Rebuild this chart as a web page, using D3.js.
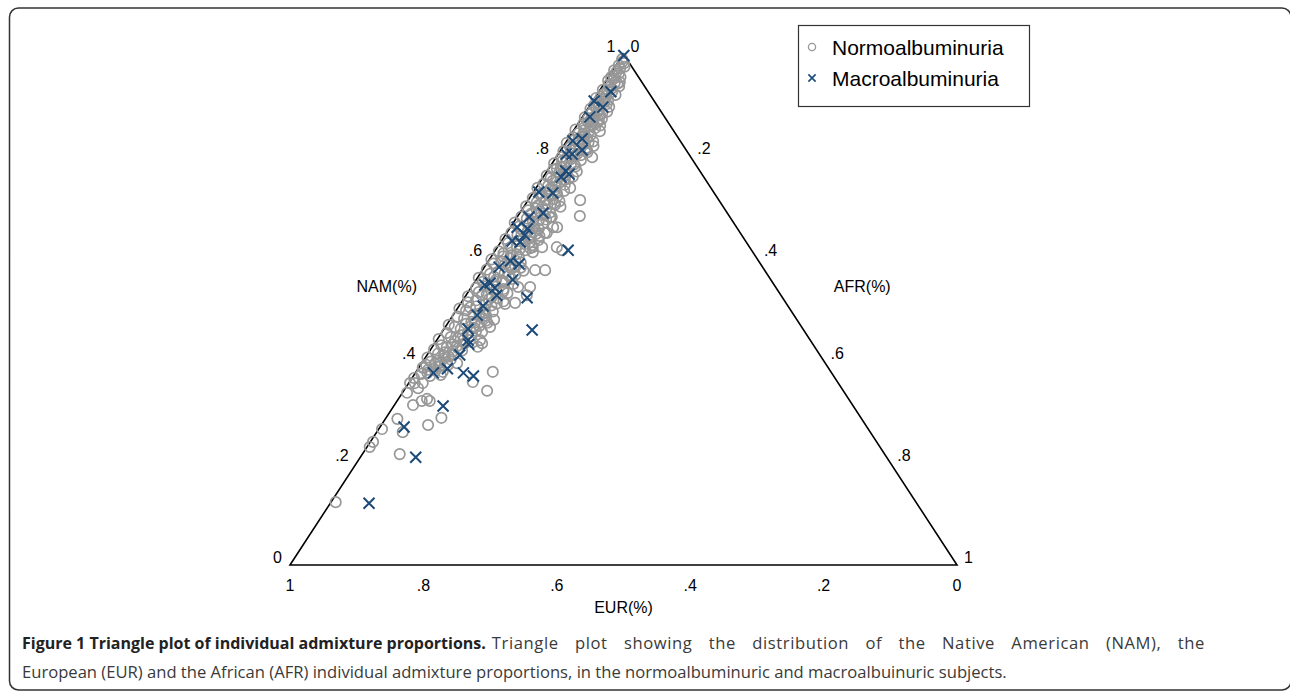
<!DOCTYPE html>
<html>
<head>
<meta charset="utf-8">
<script src="https://cdn.jsdelivr.net/npm/d3@7"></script>
<style>
  body { margin: 0; background: #fff; }
  svg { display: block; }
</style>
</head>
<body>
<div id="chart"></div>
<script>
// every point is [NAM, AFR]; EUR = 1 - NAM - AFR

// normoalbuminuria, dense band near the NAM/EUR edge
var normoUpper = [
  [0.99,0.003],[0.985,0.006],[0.978,0.004],[0.972,0.009],[0.968,0.002],[0.962,0.012],[0.958,0.006],
  [0.952,0.010],[0.948,0.003],[0.944,0.015],[0.94,0.008],[0.935,0.012],[0.93,0.004],[0.926,0.020],
  [0.922,0.010],[0.918,0.015],[0.914,0.002],[0.91,0.022],[0.905,0.008],[0.90,0.014],[0.897,0.030],
  [0.893,0.004],[0.889,0.018],[0.885,0.010],[0.88,0.025],[0.876,0.004],[0.872,0.015],[0.868,0.020],
  [0.864,0.008],[0.86,0.035],[0.856,0.013],[0.852,0.002],[0.848,0.024]
];
var normoMiddle = [
  [0.845,0.010],[0.841,0.030],[0.837,0.006],[0.833,0.016],[0.829,0.040],[0.826,0.002],[0.822,0.022],
  [0.818,0.011],[0.814,0.028],[0.81,0.005],[0.806,0.018],[0.802,0.035],[0.798,0.008],[0.794,0.024],
  [0.79,0.013],[0.786,0.003],[0.782,0.030],[0.778,0.017],[0.774,0.008],[0.770,0.045],[0.766,0.020],
  [0.762,0.004],[0.758,0.012],[0.754,0.035],[0.75,0.025],[0.746,0.007],[0.742,0.016],[0.738,0.002],
  [0.734,0.030],[0.73,0.020],[0.726,0.011],[0.722,0.040],[0.718,0.005],[0.714,0.026],[0.71,0.015],
  [0.706,0.033],[0.702,0.003],[0.698,0.020],[0.694,0.010],[0.69,0.045],[0.686,0.028],[0.682,0.006],
  [0.678,0.016],[0.674,0.036],[0.67,0.002],[0.666,0.024],[0.662,0.012],[0.658,0.044],[0.654,0.030],
  [0.65,0.007],[0.646,0.018],[0.642,0.040],[0.638,0.004],[0.634,0.026],[0.63,0.012],[0.626,0.050],
  [0.622,0.020],[0.618,0.035],[0.614,0.006],[0.61,0.015],[0.606,0.028],[0.602,0.042]
];
var normoLower = [
  [0.598,0.003],[0.594,0.020],[0.59,0.010],[0.586,0.035],[0.582,0.055],[0.578,0.006],[0.574,0.025],
  [0.57,0.015],[0.566,0.045],[0.562,0.002],[0.558,0.030],[0.554,0.012],[0.55,0.060],[0.546,0.022],
  [0.542,0.008],[0.538,0.040],[0.534,0.016],[0.53,0.030],[0.526,0.004],[0.522,0.050],[0.518,0.020],
  [0.514,0.010],[0.51,0.038],[0.506,0.026],[0.502,0.003],[0.498,0.015],[0.494,0.045],[0.49,0.030],
  [0.486,0.008],[0.482,0.020],[0.478,0.055],[0.474,0.040],[0.47,0.003],[0.466,0.014],[0.462,0.025],
  [0.458,0.050],[0.454,0.008],[0.45,0.034],[0.446,0.018],[0.442,0.002],[0.438,0.028],[0.434,0.045],
  [0.43,0.012],[0.426,0.022],[0.422,0.005],[0.418,0.035],[0.414,0.015],[0.41,0.026],[0.406,0.003],
  [0.402,0.040],[0.398,0.012],[0.394,0.020],[0.39,0.030],[0.386,0.006],[0.382,0.016],[0.378,0.040],
  [0.374,0.010],[0.37,0.025],[0.366,0.003]
];
// more of the band, its right-hand half
var normoFill = [
  [0.955,0.018],[0.945,0.022],[0.937,0.025],[0.928,0.012],[0.92,0.028],[0.912,0.016],[0.902,0.024],
  [0.895,0.012],[0.887,0.032],[0.878,0.018],[0.87,0.028],[0.862,0.020],[0.855,0.030],
  [0.849,0.040],[0.843,0.018],[0.835,0.028],[0.827,0.034],[0.82,0.045],[0.812,0.020],[0.808,0.042],
  [0.8,0.026],[0.792,0.040],[0.788,0.020],[0.78,0.038],[0.772,0.026],[0.764,0.032],[0.76,0.044],
  [0.752,0.018],[0.744,0.040],[0.74,0.028],[0.732,0.045],[0.724,0.026],[0.716,0.036],[0.712,0.048],
  [0.704,0.020],[0.696,0.036],[0.692,0.028],[0.684,0.040],[0.68,0.050],[0.672,0.028],[0.668,0.045],
  [0.66,0.036],[0.656,0.020],[0.648,0.045],[0.64,0.030],[0.636,0.055],[0.628,0.038],[0.624,0.028],
  [0.616,0.045],[0.612,0.058],[0.604,0.018],
  [0.596,0.040],[0.592,0.050],[0.588,0.028],[0.58,0.042],[0.576,0.062],[0.572,0.036],[0.564,0.024],
  [0.56,0.052],[0.556,0.040],[0.548,0.032],[0.544,0.070],[0.54,0.050],[0.532,0.060],[0.528,0.024],
  [0.52,0.038],[0.516,0.062],[0.508,0.048],[0.504,0.018],[0.496,0.056],[0.492,0.038],[0.484,0.046],
  [0.48,0.066],[0.472,0.028],[0.468,0.050],[0.46,0.040],[0.456,0.060],[0.448,0.048],[0.444,0.030],
  [0.436,0.056],[0.428,0.036],[0.42,0.048],[0.412,0.040],[0.404,0.028],[0.396,0.036],[0.388,0.030],
  [0.38,0.028],[0.372,0.040]
];
// the middle of the band, where it reads as a solid grey strip
var normoCore = [
  [0.982,0.010],[0.975,0.014],[0.965,0.007],[0.955,0.004],[0.942,0.020],[0.932,0.016],[0.916,0.008],
  [0.907,0.018],[0.899,0.006],[0.884,0.026],[0.874,0.010],[0.866,0.014],[0.858,0.022],
  [0.851,0.016],[0.839,0.022],[0.831,0.010],[0.824,0.030],[0.816,0.036],[0.804,0.028],[0.796,0.016],
  [0.784,0.034],[0.776,0.012],[0.768,0.028],[0.756,0.040],[0.748,0.030],[0.736,0.022],[0.728,0.036],
  [0.72,0.018],[0.708,0.042],[0.7,0.028],[0.688,0.018],[0.676,0.046],[0.664,0.034],[0.652,0.040],
  [0.644,0.052],[0.632,0.044],[0.62,0.050],[0.608,0.036],
  [0.6,0.030],[0.584,0.046],[0.568,0.054],[0.552,0.046],[0.536,0.052],[0.524,0.040],[0.512,0.054],
  [0.5,0.042],[0.488,0.050],[0.476,0.034],[0.464,0.044],[0.452,0.040],[0.44,0.040],[0.432,0.028],
  [0.424,0.040],[0.416,0.024],[0.408,0.034],[0.4,0.022],[0.392,0.008],[0.384,0.024],[0.376,0.018]
];
// normoalbuminuria, scattered away from the band
var normoScatter = [
  [0.873,0.031],[0.865,0.028],[0.812,0.039],[0.798,0.054],[0.738,0.051],[0.714,0.078],[0.705,0.045],
  [0.701,0.055],[0.683,0.093],[0.681,0.052],[0.661,0.064],[0.661,0.070],[0.650,0.057],[0.650,0.060],
  [0.622,0.089],[0.622,0.067],[0.622,0.053],[0.616,0.100],[0.577,0.094],[0.577,0.079],[0.544,0.088],
  [0.528,0.091],[0.513,0.081],[0.511,0.067],[0.474,0.059],[0.466,0.067],[0.440,0.065],[0.434,0.071],
  [0.427,0.068],[0.395,0.026],[0.391,0.041],[0.395,0.053],[0.387,0.006],[0.378,0.115],[0.358,0.095],
  [0.356,0.002],[0.356,0.009],[0.356,0.021],[0.346,0.019],[0.341,0.125],[0.337,0.007],[0.325,0.043],
  [0.321,0.037],[0.321,0.049],[0.313,0.028],[0.288,0.083],[0.286,0.018],[0.274,0.070],[0.266,0.005],
  [0.260,0.039],[0.241,0.004],[0.231,0.004],[0.217,0.056],[0.123,0.007]
];
// macroalbuminuria
var macro = [
  [0.997,0.002],[0.926,0.018],[0.908,0.002],[0.896,0.021],[0.877,0.011],[0.830,0.009],[0.834,0.021],
  [0.804,0.012],[0.804,0.021],[0.812,0.032],[0.771,0.028],[0.765,0.036],[0.759,0.027],[0.730,0.008],
  [0.728,0.030],[0.681,0.018],[0.689,0.035],[0.661,0.010],[0.658,0.027],[0.646,0.029],[0.634,0.016],
  [0.632,0.029],[0.616,0.109],[0.583,0.022],[0.595,0.033],[0.589,0.049],[0.552,0.024],[0.542,0.036],
  [0.558,0.055],[0.548,0.018],[0.528,0.046],[0.523,0.094],[0.507,0.036],[0.489,0.036],[0.460,0.133],
  [0.462,0.036],[0.440,0.047],[0.411,0.049],[0.432,0.052],[0.376,0.027],[0.384,0.044],[0.376,0.072],
  [0.370,0.090],[0.311,0.074],[0.270,0.036],[0.211,0.083],[0.121,0.058]
];

var tickValues = [0, 0.2, 0.4, 0.6, 0.8, 1];
var tickLabels = ["0", ".2", ".4", ".6", ".8", "1"];
var legendLabels = ["Normoalbuminuria", "Macroalbuminuria"];
var captionBold = "Figure 1 Triangle plot of individual admixture proportions.";
var captionRest = "Triangle plot showing the distribution of the Native American (NAM), the";
var captionLine2 = "European (EUR) and the African (AFR) individual admixture proportions, in the normoalbuminuric and macroalbuinuric subjects.";

var width = 1290, height = 691;
var tri = {left: 290, right: 957, base: 565, top: 54};

var svg = d3.select("#chart").append("svg")
  .attr("width", width)
  .attr("height", height);

// NAM goes up, AFR goes right; x uses AFR + NAM/2 so the apex sits at the middle
var y = d3.scaleLinear().domain([0, 1]).range([tri.base, tri.top]);
var x = d3.scaleLinear().domain([0, 1]).range([tri.left, tri.right]);
function px(d) { return x(d[1] + d[0] / 2); }
function py(d) { return y(d[0]); }

// frame round figure + caption
svg.append("rect")
  .attr("x", 9.5).attr("y", 8)
  .attr("width", 1281.5).attr("height", 682)
  .attr("rx", 9)
  .attr("fill", "none")
  .attr("stroke", "#333")
  .attr("stroke-width", 1.5);

// triangle
var corners = [[0, 0], [0, 1], [1, 0]];
svg.append("path")
  .attr("d", d3.line().x(px).y(py)(corners) + "Z")
  .attr("fill", "none")
  .attr("stroke", "#000")
  .attr("stroke-width", 1.6);

var font = "'Liberation Sans', Arial, Helvetica, sans-serif";

// tick labels on the three sides
var ticks = svg.append("g").attr("font-family", font).attr("font-size", 16).attr("fill", "#000");

// EUR along the bottom, 1 at the left corner
ticks.selectAll("text.eur").data(tickValues).enter().append("text")
  .attr("class", "eur")
  .attr("x", function(d) { return px([0, 1 - d]); })
  .attr("y", tri.base + 26)
  .attr("text-anchor", "middle")
  .text(function(d, i) { return tickLabels[i]; });

// NAM on the left side
ticks.selectAll("text.nam").data(tickValues).enter().append("text")
  .attr("class", "nam")
  .attr("x", function(d) { return px([d, 0]) - 8; })
  .attr("y", function(d) { return py([d, 0]) - 2; })
  .attr("text-anchor", "end")
  .text(function(d, i) { return tickLabels[i]; });

// AFR on the right side, 0 at the apex
ticks.selectAll("text.afr").data(tickValues).enter().append("text")
  .attr("class", "afr")
  .attr("x", function(d) { return px([1 - d, d]) + 7; })
  .attr("y", function(d) { return py([1 - d, d]) - 2; })
  .attr("text-anchor", "start")
  .text(function(d, i) { return tickLabels[i]; });

// axis titles
var mid = 0.5;
ticks.append("text")
  .attr("x", px([mid, 0]) - 70).attr("y", py([mid, 0]) - 18)
  .attr("text-anchor", "middle").text("NAM(%)");
ticks.append("text")
  .attr("x", px([mid, 1 - mid]) + 72).attr("y", py([mid, 1 - mid]) - 18)
  .attr("text-anchor", "middle").text("AFR(%)");
ticks.append("text")
  .attr("x", px([0, 0.5])).attr("y", tri.base + 48)
  .attr("text-anchor", "middle").text("EUR(%)");

// points
var grey = "#979797", navy = "#1c4a78";
var normo = normoUpper.concat(normoMiddle, normoLower, normoFill, normoCore, normoScatter);

svg.append("g").selectAll("circle").data(normo).enter().append("circle")
  .attr("cx", px).attr("cy", py)
  .attr("r", 5.2)
  .attr("fill", "none")
  .attr("stroke", grey)
  .attr("stroke-width", 1.7);

function cross(s) { return "M" + -s + "," + -s + "L" + s + "," + s + "M" + -s + "," + s + "L" + s + "," + -s; }

svg.append("g").selectAll("path").data(macro).enter().append("path")
  .attr("transform", function(d) { return "translate(" + px(d) + "," + py(d) + ")"; })
  .attr("d", cross(5.5))
  .attr("fill", "none")
  .attr("stroke", navy)
  .attr("stroke-width", 2);

// legend
var legend = svg.append("g").attr("font-family", font).attr("font-size", 21);
legend.append("rect")
  .attr("x", 798.5).attr("y", 25.5).attr("width", 231).attr("height", 81)
  .attr("fill", "#fff").attr("stroke", "#333").attr("stroke-width", 1.2);
legend.append("circle")
  .attr("cx", 812).attr("cy", 47).attr("r", 3.6)
  .attr("fill", "none").attr("stroke", grey).attr("stroke-width", 1.3);
legend.append("path")
  .attr("transform", "translate(812,78)")
  .attr("d", cross(3.6))
  .attr("fill", "none").attr("stroke", navy).attr("stroke-width", 1.6);
legend.selectAll("text").data(legendLabels).enter().append("text")
  .attr("x", 832)
  .attr("y", function(d, i) { return 55 + i * 31; })
  .text(function(d) { return d; });

// caption, first line is justified: slight letter spacing, the rest goes into the word gaps
var cap = svg.append("g").attr("font-family", "'Open Sans', 'Noto Sans', sans-serif").attr("fill", "#3a3a3a");
var bold = cap.append("text").attr("x", 22).attr("y", 649)
  .attr("font-size", 16).attr("font-weight", "bold").attr("fill", "#222")
  .text(captionBold);
var restX = 22 + bold.node().getComputedTextLength() + 6;
var rest = cap.append("text").attr("x", restX).attr("y", 649)
  .attr("font-size", 16.6)
  .attr("letter-spacing", 0.6)
  .text(captionRest);
var gaps = captionRest.split(" ").length - 1;
rest.attr("word-spacing", Math.max(0, (1205 - restX - rest.node().getComputedTextLength()) / gaps));
cap.append("text").attr("x", 22).attr("y", 678)
  .attr("font-size", 16.6)
  .text(captionLine2);
</script>
</body>
</html>
